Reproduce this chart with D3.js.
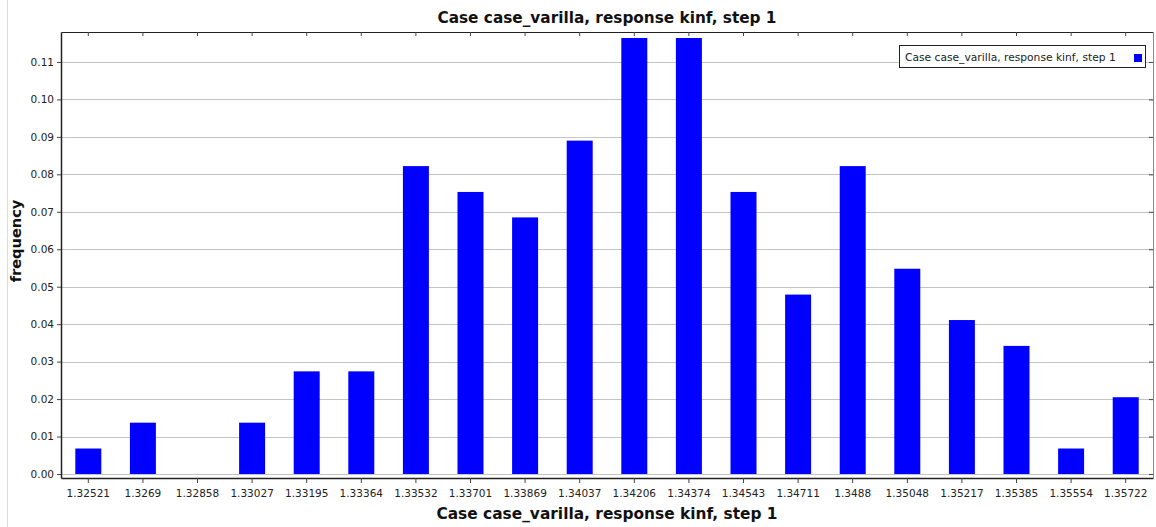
<!DOCTYPE html>
<html><head><meta charset="utf-8">
<script src="https://cdn.jsdelivr.net/npm/d3@7"></script>
<style>body{margin:0;background:#fff;} svg{display:block;font-family:"DejaVu Sans",sans-serif;}</style>
</head><body>
<svg id="c" width="1156" height="527"></svg>
<script>
const categories = ["1.32521","1.3269","1.32858","1.33027","1.33195","1.33364","1.33532","1.33701","1.33869","1.34037","1.34206","1.34374","1.34543","1.34711","1.3488","1.35048","1.35217","1.35385","1.35554","1.35722"];
const frequency = [0.0068,0.0137,0,0.0137,0.0274,0.0274,0.0822,0.0753,0.0685,0.0890,0.1164,0.1164,0.0753,0.0479,0.0822,0.0548,0.0411,0.0342,0.0068,0.0205];
const yTicks = [0,0.01,0.02,0.03,0.04,0.05,0.06,0.07,0.08,0.09,0.10,0.11];
const titleText = "Case case_varilla, response kinf, step 1";
const yLabel = "frequency";
const seriesName = "Case case_varilla, response kinf, step 1";

const svg = d3.select("#c");
const L = 61, R = 1153, T = 32, B = 478;
const x = d3.scaleBand().domain(categories).range([L, R]).paddingInner(0.524).paddingOuter(0.262);
const y = d3.scaleLinear().domain([-0.00107, 0.118]).range([B, T]);

// faint left border line
svg.append("line").attr("x1",7.5).attr("x2",7.5).attr("y1",0).attr("y2",527).attr("stroke","#dcdcdc");

// gridlines
svg.append("g").selectAll("line").data(yTicks).join("line")
  .attr("x1",L).attr("x2",R).attr("y1",d=>Math.round(y(d))+0.5).attr("y2",d=>Math.round(y(d))+0.5)
  .attr("stroke","#c4c4c4").attr("stroke-width",1);

// bars
svg.append("g").selectAll("rect").data(frequency).join("rect")
  .attr("x",(d,i)=>x(categories[i])).attr("width",x.bandwidth())
  .attr("y",d=>y(d)).attr("height",d=>y(0)-y(d))
  .attr("fill","#0000ff");

// axes
const fmt = d3.format(".2f");
const gB = svg.append("g").attr("transform",`translate(0,${B})`)
  .call(d3.axisBottom(x).tickSizeInner(5).tickSizeOuter(0).tickPadding(7));
const gT = svg.append("g").attr("transform",`translate(0,${T})`)
  .call(d3.axisBottom(x).tickSizeInner(4).tickSizeOuter(0).tickFormat(""));
const gL = svg.append("g").attr("transform",`translate(${L},0)`)
  .call(d3.axisLeft(y).tickValues(yTicks).tickFormat(fmt).tickSizeInner(4).tickSizeOuter(0).tickPadding(3));
const gR = svg.append("g").attr("transform",`translate(${R},0)`)
  .call(d3.axisLeft(y).tickValues(yTicks).tickFormat("").tickSizeInner(4).tickSizeOuter(0));
[gB,gT,gL,gR].forEach(g=>{
  g.select(".domain").attr("stroke","#222").attr("stroke-width",1.5);
  g.selectAll(".tick line").attr("stroke","#444");
  g.selectAll(".tick text").attr("fill","#222").style("font-size","10.5px").style("font-family","DejaVu Sans");
});
gT.select(".domain").attr("stroke-width",1.2);
gR.select(".domain").attr("stroke","#888").attr("stroke-width",1);

// titles
svg.append("text").attr("x",607).attr("y",23).attr("text-anchor","middle")
  .style("font-size","15.3px").style("font-weight","bold").attr("fill","#111").text(titleText);
svg.append("text").attr("x",607).attr("y",519).attr("text-anchor","middle")
  .style("font-size","15.4px").style("font-weight","bold").attr("fill","#111").text(titleText);
svg.append("text").attr("transform","translate(21,241) rotate(-90)").attr("text-anchor","middle")
  .style("font-size","14.6px").style("font-weight","bold").attr("fill","#111").text(yLabel);

// legend
const lg = svg.append("g");
lg.append("rect").attr("x",899.5).attr("y",45.5).attr("width",246).attr("height",22)
  .attr("fill","#fff").attr("stroke","#222");
lg.append("text").attr("x",905).attr("y",61).style("font-size","10.7px").attr("fill","#222").text(seriesName);
lg.append("rect").attr("x",1134).attr("y",54).attr("width",8).attr("height",8).attr("fill","#0000ff");
</script>
</body></html>
